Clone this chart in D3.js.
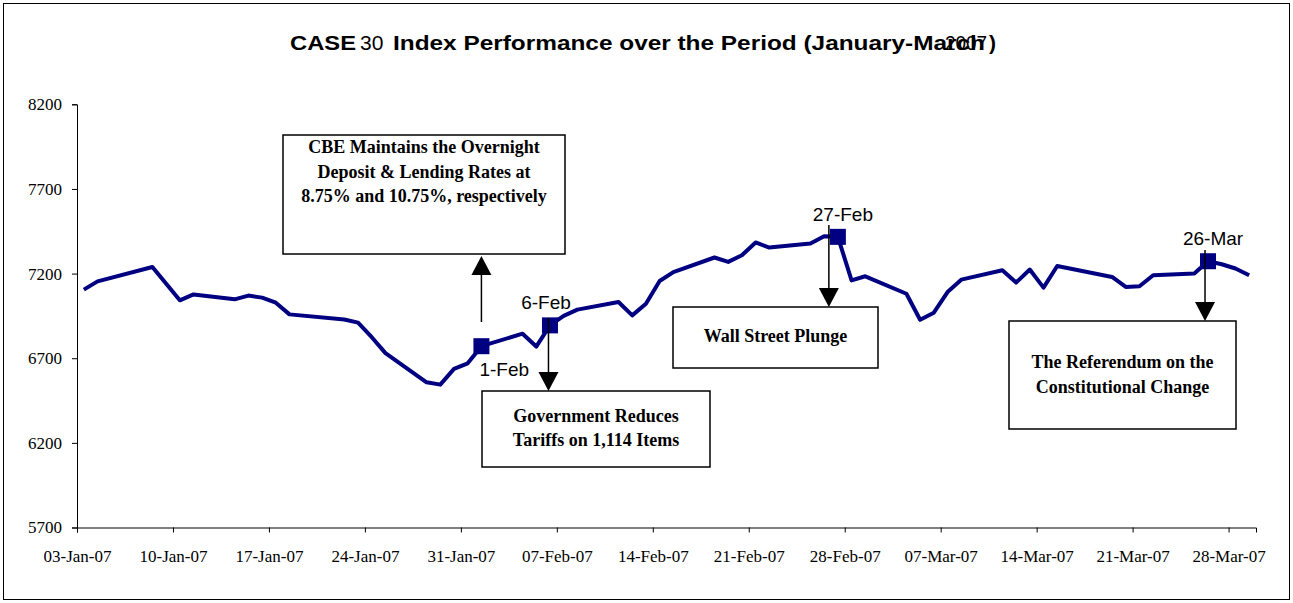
<!DOCTYPE html>
<html>
<head>
<meta charset="utf-8">
<script src="https://cdn.jsdelivr.net/npm/d3@7"></script>
<style>
  body { margin: 0; background: #fff; }
  svg { display: block; }
</style>
</head>
<body>
<div id="display"></div>
<script>
// trading days and CASE30 closes
var dates = ["2007-01-03","2007-01-04","2007-01-08","2007-01-10","2007-01-11","2007-01-14","2007-01-15",
  "2007-01-16","2007-01-17","2007-01-18","2007-01-22","2007-01-23","2007-01-24","2007-01-25","2007-01-28",
  "2007-01-29","2007-01-30","2007-01-31","2007-02-01","2007-02-04","2007-02-05","2007-02-06","2007-02-07",
  "2007-02-08","2007-02-11","2007-02-12","2007-02-13","2007-02-14","2007-02-15","2007-02-18","2007-02-19",
  "2007-02-20","2007-02-21","2007-02-22","2007-02-25","2007-02-26","2007-02-27","2007-02-28","2007-03-01",
  "2007-03-04","2007-03-05","2007-03-06","2007-03-07","2007-03-08","2007-03-11","2007-03-12","2007-03-13",
  "2007-03-14","2007-03-15","2007-03-19","2007-03-20","2007-03-21","2007-03-22","2007-03-25","2007-03-26",
  "2007-03-27","2007-03-28","2007-03-29"];
var values = [7105,7154,7239,7042,7077,7048,7070,
  7058,7028,6959,6929,6910,6824,6730,6558,
  6544,6637,6670,6771,6845,6769,6894,6950,
  6987,7032,6953,7022,7156,7209,7295,7269,
  7308,7384,7354,7378,7421,7417,7160,7184,
  7081,6927,6969,7091,7164,7220,7147,7224,
  7117,7245,7180,7121,7125,7190,7200,7273,
  7255,7230,7190];

// highlighted days
var markDates = ["2007-02-01","2007-02-06","2007-02-27","2007-03-26"];
var markLabels = ["1-Feb","6-Feb","27-Feb","26-Mar"];

var yTicks = [5700,6200,6700,7200,7700,8200];
var xTicks = ["2007-01-03","2007-01-10","2007-01-17","2007-01-24","2007-01-31","2007-02-07","2007-02-14",
  "2007-02-21","2007-02-28","2007-03-07","2007-03-14","2007-03-21","2007-03-28"];

// event notes, one per highlighted day
var noteLines = [
  ["CBE Maintains the Overnight","Deposit & Lending Rates at","8.75% and 10.75%, respectively"],
  ["Government Reduces","Tariffs on 1,114 Items"],
  ["Wall Street Plunge"],
  ["The Referendum on the","Constitutional Change"]
];

var W = 1293, H = 603;
var parse = d3.utcParse("%Y-%m-%d");

var svg = d3.select("#display").append("svg")
    .attr("width", W)
    .attr("height", H);

// outer chart frame
svg.append("rect")
    .attr("x", 3.5).attr("y", 3.5)
    .attr("width", 1286).attr("height", 596)
    .attr("fill", "none").attr("stroke", "#000").attr("stroke-width", 1);

var x = d3.scaleUtc()
    .domain([parse("2007-01-03"), parse("2007-03-30")])
    .range([77, 1256]);
var y = d3.scaleLinear()
    .domain([5700, 8200])
    .range([527.5, 104.3]);

// points sit in the middle of each day slot
function xd(s) { return x(d3.utcHour.offset(parse(s), 12)); }

// title (the original has the numbers overprinted)
var title = svg.append("text")
    .attr("y", 50)
    .attr("font-family", "Liberation Sans, Arial, sans-serif")
    .attr("font-size", 21);
title.append("tspan").attr("x", 290).attr("font-weight", "bold")
    .attr("textLength", 66).attr("lengthAdjust", "spacingAndGlyphs").text("CASE");
title.append("tspan").attr("x", 360).text("30");
title.append("tspan").attr("x", 393).attr("font-weight", "bold")
    .attr("textLength", 592).attr("lengthAdjust", "spacingAndGlyphs")
    .text("Index Performance over the Period (January-March");
title.append("tspan").attr("x", 945)
    .attr("textLength", 42).attr("lengthAdjust", "spacingAndGlyphs").text("2007");
title.append("tspan").attr("x", 989).attr("font-weight", "bold").text(")");

// axes
var gy = svg.append("g").attr("transform", "translate(77,0)")
    .call(d3.axisLeft(y).tickValues(yTicks).tickSize(5).tickPadding(10).tickFormat(d3.format("d")));
var gx = svg.append("g").attr("transform", "translate(0,527.5)")
    .call(d3.axisBottom(x).tickValues(xTicks.map(parse)).tickSize(5).tickPadding(17)
      .tickFormat(d3.utcFormat("%d-%b-%y")));
[gx, gy].forEach(function(g) {
  g.select(".domain").attr("stroke", "#000");
  g.selectAll(".tick line").attr("stroke", "#000");
  g.selectAll("text")
    .attr("font-family", "Liberation Serif, Times New Roman, serif")
    .attr("font-size", 17).attr("fill", "#000");
});

// index line
var line = d3.line()
    .x(function(d, i) { return xd(dates[i]); })
    .y(function(d) { return y(d); });
svg.append("path")
    .datum(values)
    .attr("d", line)
    .attr("fill", "none")
    .attr("stroke", "#000080")
    .attr("stroke-width", 4)
    .attr("stroke-linejoin", "round");

// square markers on event days
var markVals = markDates.map(function(s) { return values[dates.indexOf(s)]; });
svg.selectAll("rect.mark")
  .data(markDates)
  .enter().append("rect")
    .attr("class", "mark")
    .attr("x", function(d) { return xd(d) - 8; })
    .attr("y", function(d, i) { return y(markVals[i]) - 8; })
    .attr("width", 16).attr("height", 16)
    .attr("fill", "#000080");

// day labels: first one sits below right, the rest above
svg.selectAll("text.mlab")
  .data(markLabels)
  .enter().append("text")
    .attr("class", "mlab")
    .attr("x", function(d, i) { return i == 0 ? xd(markDates[i]) - 2 : xd(markDates[i]) + (i == 1 ? -4 : 5); })
    .attr("y", function(d, i) { return y(markVals[i]) + (i == 0 ? 30 : -16); })
    .attr("text-anchor", function(d, i) { return i == 0 ? "start" : "middle"; })
    .attr("font-family", "Liberation Sans, Arial, sans-serif")
    .attr("font-size", 19)
    .text(function(d) { return d; });

// note boxes and arrows
var boxes = [
  {x: 283, y: 135, w: 282, h: 119, base: 153, dir: -1, from: 322, tip: 256, dx: 0},
  {x: 482, y: 391, w: 228, h: 76, base: 421.5, dir: 1, from: 318, tip: 391, dx: -1.5},
  {x: 673, y: 307, w: 205, h: 61, base: 342, dir: 1, from: 225, tip: 307, dx: -9},
  {x: 1009, y: 321, w: 227, h: 108, base: 368, dir: 1, from: 250, tip: 321, dx: -3}
];
boxes.forEach(function(b, i) {
  svg.append("rect")
      .attr("x", b.x).attr("y", b.y).attr("width", b.w).attr("height", b.h)
      .attr("fill", "#fff").attr("stroke", "#000").attr("stroke-width", 1.5);
  var t = svg.append("text")
      .attr("text-anchor", "middle")
      .attr("font-family", "Liberation Serif, Times New Roman, serif")
      .attr("font-weight", "bold")
      .attr("font-size", 18);
  noteLines[i].forEach(function(s, k) {
    t.append("tspan").attr("x", b.x + b.w / 2).attr("y", b.base + k * 24.5).text(s);
  });
  var ax = xd(markDates[i]) + b.dx;
  var headBase = b.tip - b.dir * 19;
  svg.append("line")
      .attr("x1", ax).attr("x2", ax)
      .attr("y1", b.from).attr("y2", headBase)
      .attr("stroke", "#000").attr("stroke-width", 1.5);
  svg.append("path")
      .attr("d", "M" + ax + "," + b.tip + "L" + (ax - 10) + "," + headBase + "L" + (ax + 10) + "," + headBase + "Z")
      .attr("fill", "#000");
});
</script>
</body>
</html>
